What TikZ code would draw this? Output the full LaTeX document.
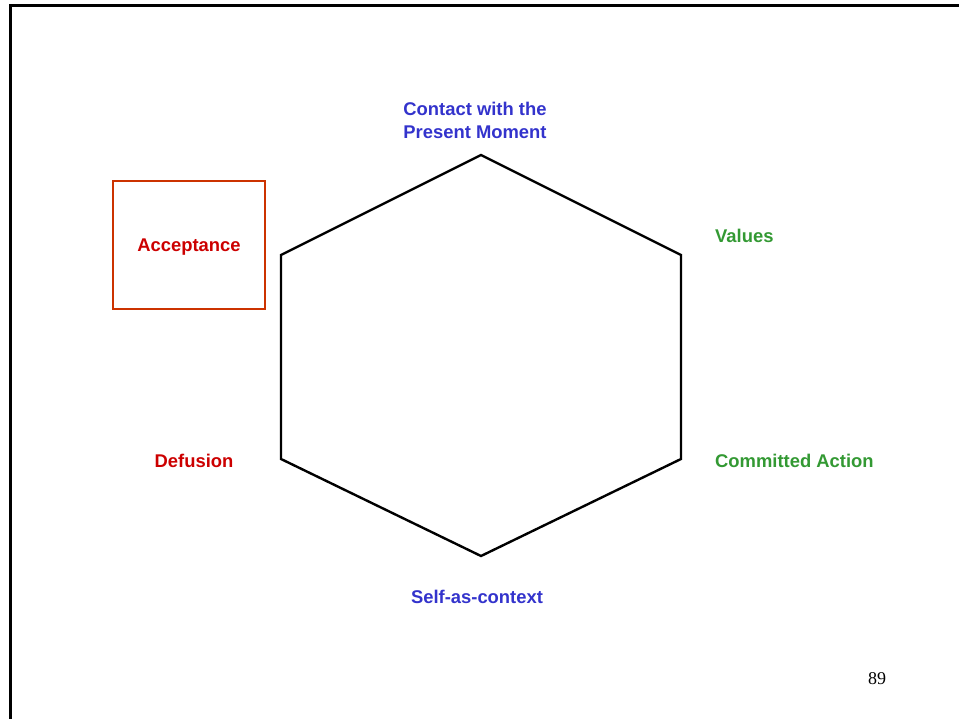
\documentclass[tikz,border=0pt]{standalone}
\usepackage{fontspec}
\setmainfont{Liberation Serif}
\newfontfamily\lblfont{Liberation Sans}
\usetikzlibrary{positioning}
\definecolor{hexblue}{HTML}{3333CC}
\definecolor{hexgreen}{HTML}{339933}
\definecolor{hexred}{HTML}{CC0000}
\definecolor{boxred}{HTML}{CC3300}

\begin{document}
\begin{tikzpicture}[
  x=1pt,y=-1pt,
  lbl/.style={font=\lblfont\bfseries\fontsize{18.4}{23}\selectfont,inner sep=0pt},
  hexline/.style={line width=2.4pt,line join=miter},
  accbox/.style={draw=boxred,line width=2.6pt,minimum width=152pt,minimum height=128pt,
    text height=13pt,text depth=0pt,inner sep=0pt}
]
\useasboundingbox (0,0) rectangle (959,719);
% slide frame
\coordinate (fl) at (10.3,719);
\coordinate (ft) at (10.3,5.3);
\coordinate (fr) at (959,5.3);
\draw[line width=2.8pt] (fl) -- (ft) -- (fr);

% hexagon
\coordinate (h1) at (481,155);
\coordinate (h2) at (681,255);
\coordinate (h3) at (681,459);
\coordinate (h4) at (481,556);
\coordinate (h5) at (281,459);
\coordinate (h6) at (281,255);
\draw[hexline] (h1) -- (h2) -- (h3) -- (h4) -- (h5) -- (h6) -- cycle;

% labels round the hexagon
\node[lbl,text=hexblue,align=center] (contact) at (475,120) {Contact with the\\Present Moment};
\node[lbl,text=hexgreen,anchor=base west] (values) at (715,243) {Values};
\node[lbl,text=hexgreen,anchor=base west] (commit) at (715,467) {Committed Action};
\node[lbl,text=hexblue,anchor=base] (self) at (477,603) {Self-as-context};
\node[lbl,text=hexred,anchor=base] (defusion) at (194,467) {Defusion};
\node[lbl,accbox,text=hexred] (accept) at (189,245) {Acceptance};

% page number
\node[font=\fontsize{18}{22}\selectfont,anchor=base,inner sep=0pt] (page) at (877,684) {89};
\end{tikzpicture}
\end{document}
